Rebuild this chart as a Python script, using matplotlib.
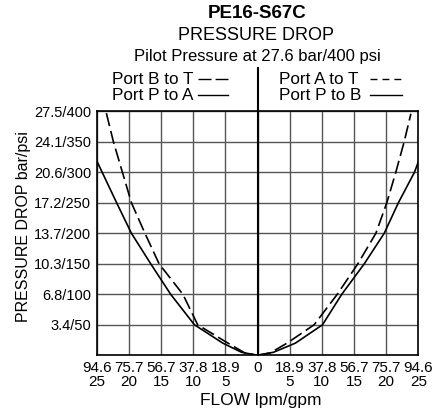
import matplotlib
matplotlib.use('Agg')
import matplotlib.pyplot as plt
from matplotlib.lines import Line2D

plt.rcParams['font.family'] = ['Liberation Sans', 'DejaVu Sans']

# podaci ocitani sa slike (protok gpm, pad tlaka psi)
p_to_a_gpm = [-25, -21.9, -19.6, -16.6, -13.5, -9.8, -5.4, -2.5, 0]
p_to_a_psi = [319, 250, 200, 150, 100, 50, 20, 5, 0]

b_to_t_gpm = [-23.5, -22.4, -21.0, -19.6, -17.5, -15.3, -11.6, -9.3, -4.6, -2, 0]
b_to_t_psi = [397, 350, 300, 250, 200, 150, 100, 50, 20, 4, 0]

a_to_t_gpm = [0, 2, 4.6, 8.8, 12.4, 15.6, 18.4, 20.1, 21.5, 22.8, 23.85]
a_to_t_psi = [0, 4, 20, 50, 100, 150, 200, 250, 300, 350, 396]

p_to_b_gpm = [0, 2.5, 5.9, 10.1, 13.1, 16.6, 19.7, 21.9, 24.4, 25]
p_to_b_psi = [0, 5, 20, 50, 100, 150, 200, 250, 300, 317]

x_ticks = [-25, -20, -15, -10, -5, 0, 5, 10, 15, 20, 25]
x_labels = ['94.6\n25', '75.7\n20', '56.7\n15', '37.8\n10', '18.9\n5', '0',
            '18.9\n5', '37.8\n10', '56.7\n15', '75.7\n20', '94.6\n25']
y_ticks = [0, 50, 100, 150, 200, 250, 300, 350, 400]
y_labels = ['', '3.4/50', '6.8/100', '10.3/150', '13.7/200', '17.2/250',
            '20.6/300', '24.1/350', '27.5/400']

W, H = 436, 412
fig = plt.figure(figsize=(W / 100, H / 100), dpi=100)
ax = fig.add_axes([96.7 / W, 1 - 355.3 / H, 321.6 / W, 244 / H])

crta = (0, (8, 3))
ax.plot(p_to_a_gpm, p_to_a_psi, color='black', lw=1.2, zorder=3)
ax.plot(b_to_t_gpm, b_to_t_psi, color='black', lw=1.2, linestyle=crta, zorder=3)
ax.plot(a_to_t_gpm, a_to_t_psi, color='black', lw=1.2, linestyle=crta, zorder=3)
ax.plot(p_to_b_gpm, p_to_b_psi, color='black', lw=1.2, zorder=3)

ax.set_xlim(-25, 25)
ax.set_ylim(0, 400)
ax.set_xticks(x_ticks)
ax.set_xticklabels(x_labels, fontsize=11, linespacing=1.0)
ax.set_yticks(y_ticks)
ax.set_yticklabels(y_labels, fontsize=10.5)
ax.tick_params(axis='both', length=0)
ax.tick_params(axis='x', pad=4)
ax.tick_params(axis='y', pad=4)

ax.grid(True, color='#555555', lw=1.0)
ax.set_axisbelow(True)
for s in ax.spines.values():
    s.set_linewidth(1.2)
    s.set_color('black')

# srednja okomita linija ide iznad grafa
ax.axvline(0, ymin=0, ymax=(355.3 - 68) / 244, color='black', lw=1.5,
           clip_on=False, zorder=4)

# naslovi
fig.text(257 / W, 1 - 14 / H, 'PE16-S67C', ha='center', va='center',
         fontsize=13.5, fontweight='bold')
fig.text(256 / W, 1 - 36 / H, 'PRESSURE DROP', ha='center', va='center', fontsize=13)
fig.text(257 / W, 1 - 57 / H, 'Pilot Pressure at 27.6 bar/400 psi', ha='center',
         va='center', fontsize=12)

# legenda
fig.text(111.7 / W, 1 - 80 / H, 'Port B to T', ha='left', va='center', fontsize=12.3)
fig.text(111.7 / W, 1 - 96 / H, 'Port P to A', ha='left', va='center', fontsize=12.3)
fig.text(279.3 / W, 1 - 80 / H, 'Port A to T', ha='left', va='center', fontsize=12.3)
fig.text(279.3 / W, 1 - 96 / H, 'Port P to B', ha='left', va='center', fontsize=12.3)

legenda = [
    (198, 228, 79, (0, (9.4, 2.9))),
    (198, 228, 95, '-'),
    (370, 401, 79, (0, (5, 3.6))),
    (370, 402, 95, '-'),
]
for x0, x1, y, ls in legenda:
    fig.add_artist(Line2D([x0 / W, x1 / W], [1 - y / H, 1 - y / H],
                          transform=fig.transFigure, color='black', lw=1.0,
                          linestyle=ls))

# oznake osi
fig.text(261 / W, 1 - 401 / H, 'FLOW lpm/gpm', ha='center', va='center', fontsize=12.5)
fig.text(23.5 / W, 1 - 227 / H, 'PRESSURE DROP bar/psi', ha='center', va='center',
         rotation=90, fontsize=11.5)

fig.savefig('out.png', dpi=100)
